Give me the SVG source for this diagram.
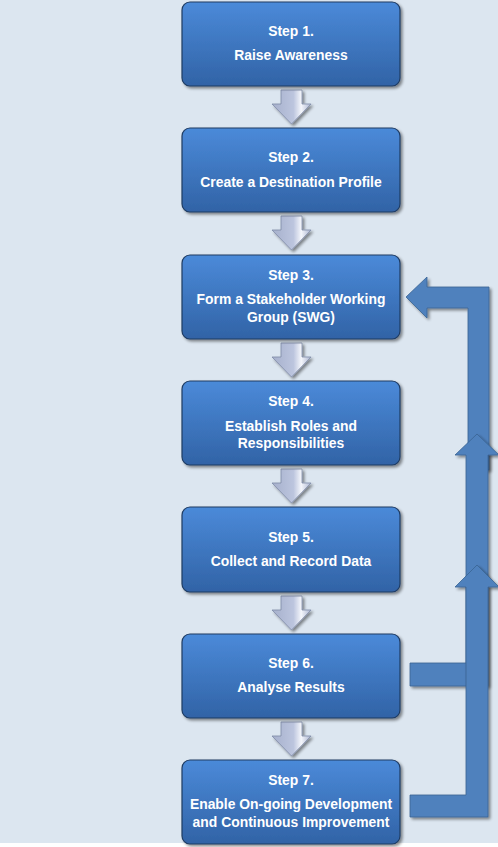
<svg xmlns="http://www.w3.org/2000/svg" width="498" height="847" viewBox="0 0 498 847">
<defs>
<linearGradient id="boxGrad" x1="0" y1="0" x2="0" y2="1">
<stop offset="0" stop-color="#4b8ad9"/>
<stop offset="1" stop-color="#3163a6"/>
</linearGradient>
<linearGradient id="downGrad" x1="0" y1="0" x2="1" y2="0">
<stop offset="0" stop-color="#a6b0cc"/>
<stop offset="0.55" stop-color="#bcc5de"/>
<stop offset="0.75" stop-color="#f4f6fb"/>
<stop offset="1" stop-color="#a9b3cf"/>
</linearGradient>
<filter id="shadow" x="-10%" y="-10%" width="130%" height="130%">
<feGaussianBlur in="SourceAlpha" stdDeviation="1.5"/>
<feOffset dx="1.5" dy="2" result="b"/>
<feComponentTransfer><feFuncA type="linear" slope="0.45"/></feComponentTransfer>
<feMerge><feMergeNode/><feMergeNode in="SourceGraphic"/></feMerge>
</filter>
</defs>
<style>
.box{fill:url(#boxGrad);stroke:#1f3c63;stroke-width:1.2;filter:url(#shadow)}
.lbl{font-family:"Liberation Sans",Arial,sans-serif;font-weight:bold;font-size:13.9px;fill:#ffffff;text-anchor:middle}
.down{fill:url(#downGrad);stroke:#7f8aa6;stroke-width:0.8;filter:url(#shadow)}
.fb{fill:#4f81bd;stroke:#3a6393;stroke-width:0.8;filter:url(#shadow)}
</style>
<rect x="0" y="0" width="498" height="843" fill="#dce6f0"/>
<rect x="0" y="843" width="498" height="4" fill="#ffffff"/>

<g id="connectors">
<path class="down" d="M281,90 H302 V104 H311 L291.5,124 L272,104 H281 Z"/>
<path class="down" d="M281,216 H302 V230 H311 L291.5,250 L272,230 H281 Z"/>
<path class="down" d="M281,343 H302 V357 H311 L291.5,377 L272,357 H281 Z"/>
<path class="down" d="M281,469 H302 V483 H311 L291.5,503 L272,483 H281 Z"/>
<path class="down" d="M281,596 H302 V610 H311 L291.5,630 L272,610 H281 Z"/>
<path class="down" d="M281,722 H302 V736 H311 L291.5,756 L272,736 H281 Z"/>
<path class="fb" d="M406,297 L427,277 V287 H489 V470 H468 V308 H427 V318 Z"/>
<path class="fb" d="M477,434 L499,455 H488 V686 H410 V663 H466 V455 H455 Z"/>
<path class="fb" d="M477,565 L499,587 H488 V817 H410 V795 H466 V587 H455 Z"/>
</g>

<g id="step1">
<rect class="box" x="182" y="2" width="218" height="84" rx="8"/>
<text class="lbl" x="291" y="36">Step 1.</text>
<text class="lbl" x="291" y="60">Raise Awareness</text>
</g>
<g id="step2">
<rect class="box" x="182" y="128" width="218" height="84" rx="8"/>
<text class="lbl" x="291" y="162">Step 2.</text>
<text class="lbl" x="291" y="187">Create a Destination Profile</text>
</g>
<g id="step3">
<rect class="box" x="182" y="255" width="218" height="84" rx="8"/>
<text class="lbl" x="291" y="280">Step 3.</text>
<text class="lbl" x="291" y="304">Form a Stakeholder Working</text>
<text class="lbl" x="291" y="322">Group (SWG)</text>
</g>
<g id="step4">
<rect class="box" x="182" y="381" width="218" height="84" rx="8"/>
<text class="lbl" x="291" y="406">Step 4.</text>
<text class="lbl" x="291" y="431">Establish Roles and</text>
<text class="lbl" x="291" y="448">Responsibilities</text>
</g>
<g id="step5">
<rect class="box" x="182" y="507" width="218" height="85" rx="8"/>
<text class="lbl" x="291" y="542">Step 5.</text>
<text class="lbl" x="291" y="566">Collect and Record Data</text>
</g>
<g id="step6">
<rect class="box" x="182" y="634" width="218" height="84" rx="8"/>
<text class="lbl" x="291" y="668">Step 6.</text>
<text class="lbl" x="291" y="692">Analyse Results</text>
</g>
<g id="step7">
<rect class="box" x="182" y="760" width="218" height="84" rx="8"/>
<text class="lbl" x="291" y="785">Step 7.</text>
<text class="lbl" x="291" y="809">Enable On-going Development</text>
<text class="lbl" x="291" y="827">and Continuous Improvement</text>
</g>
</svg>
